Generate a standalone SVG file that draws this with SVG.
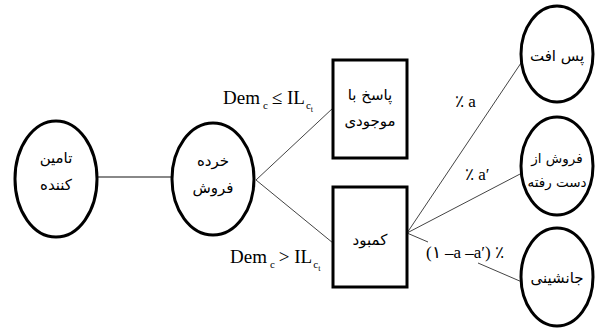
<svg xmlns="http://www.w3.org/2000/svg" width="610" height="332" viewBox="0 0 610 332">
<style>
.node{fill:#fff;stroke:#000;stroke-width:3}
.fa{font-family:"DejaVu Sans",sans-serif;font-size:15px;fill:#000;text-anchor:middle}
.sm{font-size:13.5px}
.m{font-family:"Liberation Serif",serif;font-size:19px;fill:#000}
.sub{font-size:11px}
.sub2{font-size:8px}
.lbl{font-family:"Liberation Serif","DejaVu Serif",serif;font-size:17px;fill:#000;unicode-bidi:bidi-override;direction:ltr}
.c{stroke:#444;stroke-width:1;fill:none}
.c2{stroke:#888;stroke-width:2;fill:none}
</style>
<rect width="610" height="332" fill="#fff"/>
<g id="connectors">
<line class="c2" x1="97" y1="177" x2="172" y2="177"/>
<line class="c" x1="256" y1="180" x2="333" y2="108"/>
<line class="c" x1="256" y1="180" x2="333" y2="243"/>
<line class="c" x1="407" y1="233" x2="521" y2="63"/>
<line class="c" x1="407" y1="233" x2="522" y2="173"/>
<line class="c" x1="407" y1="233" x2="428" y2="242"/>
<line class="c" x1="478" y1="263" x2="522" y2="282"/>
</g>
<g id="supplier">
<ellipse class="node" cx="56" cy="179" rx="41" ry="58"/>
<text class="fa" x="56" y="163">تامین</text>
<text class="fa" x="56" y="190">کننده</text>
</g>
<g id="retailer">
<ellipse class="node" cx="213" cy="179" rx="41" ry="56"/>
<text class="fa" x="213" y="166">خرده</text>
<text class="fa" x="213" y="193">فروش</text>
</g>
<g id="inventory">
<rect class="node" x="333" y="60" width="74" height="98"/>
<text class="fa" x="370" y="100">پاسخ با</text>
<text class="fa" x="370" y="126">موجودی</text>
</g>
<g id="shortage">
<rect class="node" x="333" y="187" width="74" height="100"/>
<text class="fa" x="370" y="245">کمبود</text>
</g>
<g id="backorder">
<ellipse class="node" cx="557" cy="54" rx="36" ry="48"/>
<text class="fa" x="557" y="61">پس افت</text>
</g>
<g id="lostsales">
<ellipse class="node" cx="557" cy="166" rx="36" ry="49"/>
<text class="fa sm" x="557" y="163">فروش از</text>
<text class="fa sm" x="557" y="187">دست رفته</text>
</g>
<g id="substitution">
<ellipse class="node" cx="557" cy="277" rx="36" ry="49"/>
<text class="fa" x="557" y="283">جانشینی</text>
</g>
<g id="labels">
<text class="m" x="223" y="104">Dem<tspan class="sub" dx="3" dy="5">c</tspan><tspan dx="4" dy="-5">≤ IL</tspan><tspan class="sub" dx="1" dy="5">c</tspan><tspan class="sub2" dy="3">t</tspan></text>
<text class="m" x="230" y="263">Dem<tspan class="sub" dx="3" dy="5">c</tspan><tspan dx="4" dy="-5">&gt; IL</tspan><tspan class="sub" dx="1" dy="5">c</tspan><tspan class="sub2" dy="3">t</tspan></text>
<text class="lbl" x="455" y="107">٪ a</text>
<text class="lbl" x="465" y="180">٪ a′</text>
<text class="lbl" x="426" y="258">(١ –a –a′) ٪</text>
</g>
</svg>
